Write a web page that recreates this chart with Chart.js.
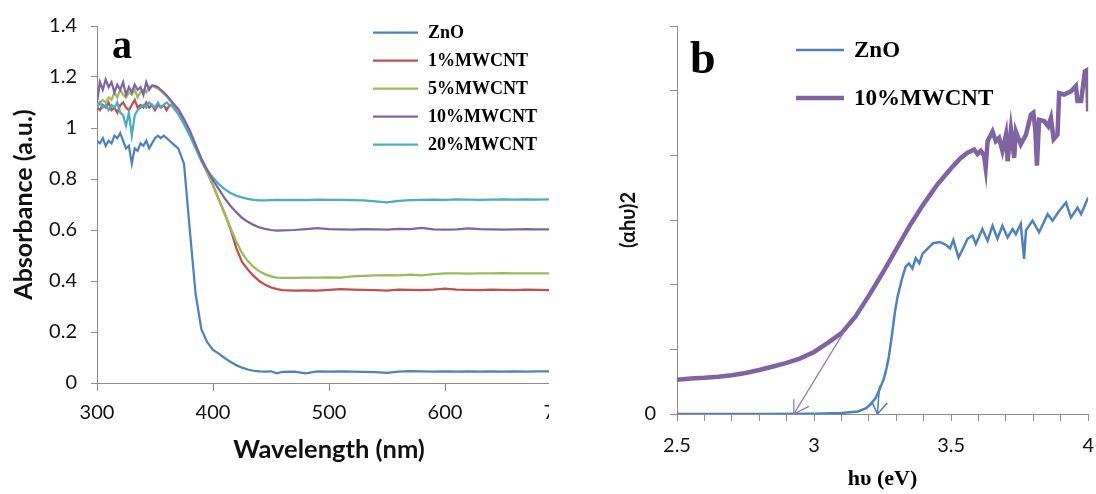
<!DOCTYPE html>
<html>
<head>
<meta charset="utf-8">
<script src="https://cdn.jsdelivr.net/npm/chart.js@4.4.1/dist/chart.umd.min.js"></script>
<style>
  html, body { margin: 0; padding: 0; background: #fff; }
  body { width: 1096px; height: 494px; position: relative; overflow: hidden; }
  canvas { display: block; }
  #wrapA { position: absolute; left: 0; top: 0; width: 549px; height: 494px; overflow: hidden; }
  #wrapB { position: absolute; left: 560px; top: 0; width: 547px; height: 494px; }
</style>
</head>
<body>
<div id="wrapA"><canvas id="chartA" width="590" height="494"></canvas></div>
<div id="wrapB"><canvas id="chartB" width="547" height="494"></canvas></div>
<script>
// ---- panel a: UV-vis absorbance ----
const wavelength = [
  300, 302.5, 305, 307.5, 310, 312.5, 315, 317.5, 320, 322.5, 325, 327.5, 330, 332.5, 335, 337.5, 340, 342.5, 345, 347.5, 350, 352.5, 355, 357.5, 360, 362.5, 365,
  370, 375, 380, 385, 390, 395, 400, 405, 410, 415, 420, 425, 430, 435, 440, 445, 450, 455, 460,
  470, 480, 490, 500, 510, 520, 530, 540, 550, 560, 570, 580, 590, 600, 610, 620, 630, 640, 650, 660, 670, 680, 690, 700
];
const absZnO = [
  0.95, 0.94, 0.96, 0.93, 0.95, 0.94, 0.97, 0.96, 0.98, 0.95, 0.92, 0.93, 0.86, 0.92, 0.91, 0.94, 0.93, 0.95, 0.92, 0.94, 0.96, 0.97, 0.96, 0.97, 0.96, 0.95, 0.94,
  0.92, 0.86, 0.6, 0.35, 0.21, 0.16, 0.13, 0.115, 0.098, 0.083, 0.07, 0.06, 0.053, 0.048, 0.046, 0.045, 0.046, 0.038, 0.044,
  0.045, 0.038, 0.046, 0.045, 0.046, 0.045, 0.044, 0.043, 0.04, 0.045, 0.047, 0.046, 0.045, 0.046, 0.045, 0.046, 0.045, 0.046, 0.045, 0.046, 0.045, 0.046, 0.046, 0.046
];
const abs1 = [
  1.08, 1.07, 1.09, 1.08, 1.1, 1.07, 1.08, 1.06, 1.09, 1.1, 1.08, 1.07, 1.09, 1.11, 1.08, 1.09, 1.08, 1.1, 1.08, 1.09, 1.07, 1.09, 1.08, 1.09, 1.07, 1.09, 1.09,
  1.07, 1.03, 0.98, 0.93, 0.875, 0.825, 0.775, 0.72, 0.665, 0.605, 0.53, 0.475, 0.445, 0.42, 0.4, 0.385, 0.375, 0.368, 0.364,
  0.362, 0.363, 0.362, 0.365, 0.368, 0.366, 0.365, 0.364, 0.362, 0.366, 0.365, 0.364, 0.366, 0.37, 0.366, 0.365, 0.364, 0.366, 0.365, 0.364, 0.366, 0.365, 0.364, 0.365
];
const abs5 = [
  1.09, 1.1, 1.11, 1.1, 1.12, 1.11, 1.14, 1.12, 1.15, 1.13, 1.12, 1.14, 1.13, 1.15, 1.12, 1.14, 1.15, 1.14, 1.16, 1.165, 1.16, 1.155, 1.145, 1.135, 1.125, 1.11, 1.095,
  1.07, 1.03, 0.98, 0.93, 0.875, 0.825, 0.775, 0.72, 0.665, 0.61, 0.555, 0.51, 0.478, 0.455, 0.438, 0.426, 0.418, 0.413, 0.412,
  0.412, 0.413, 0.413, 0.414, 0.413, 0.418, 0.42, 0.422, 0.423, 0.422, 0.425, 0.422, 0.427, 0.43, 0.43, 0.429, 0.43, 0.43, 0.431, 0.43, 0.43, 0.43, 0.43, 0.43
];
const abs10 = [
  1.1, 1.18, 1.15, 1.19, 1.16, 1.18, 1.14, 1.17, 1.15, 1.18, 1.13, 1.16, 1.14, 1.17, 1.15, 1.16, 1.13, 1.18, 1.15, 1.167, 1.165, 1.16, 1.15, 1.14, 1.128, 1.115, 1.1,
  1.075, 1.035, 0.99, 0.935, 0.88, 0.835, 0.795, 0.76, 0.725, 0.695, 0.67, 0.648, 0.632, 0.62, 0.61, 0.604, 0.6, 0.598, 0.599,
  0.6, 0.603, 0.607, 0.603, 0.602, 0.601, 0.603, 0.602, 0.601, 0.604, 0.603, 0.608, 0.602, 0.601, 0.602, 0.606, 0.603, 0.602, 0.601, 0.602, 0.603, 0.602, 0.602, 0.602
];
const abs20 = [
  1.08, 1.1, 1.08, 1.09, 1.07, 1.09, 1.08, 1.1, 1.06, 1.05, 1.01, 1.06, 0.97, 1.05, 1.07, 1.08, 1.09, 1.08, 1.1, 1.09, 1.08, 1.1, 1.08, 1.09, 1.1, 1.09, 1.085,
  1.055, 1.015, 0.97, 0.92, 0.87, 0.835, 0.805, 0.78, 0.76, 0.745, 0.735, 0.728, 0.722, 0.718, 0.716, 0.716, 0.717, 0.718, 0.717,
  0.718, 0.717, 0.719, 0.718, 0.718, 0.717, 0.716, 0.712, 0.708, 0.714, 0.717, 0.718, 0.719, 0.718, 0.72, 0.719, 0.718, 0.719, 0.72, 0.719, 0.72, 0.719, 0.72, 0.72
];

// ---- panel b: Tauc plot ----
const evZnO = [
  2.5, 2.8, 3.0, 3.1, 3.16, 3.19, 3.206, 3.225, 3.243, 3.255, 3.265, 3.273, 3.285, 3.295, 3.305, 3.32, 3.334, 3.346, 3.359, 3.371,
  3.384, 3.396, 3.415, 3.434, 3.459, 3.483, 3.496, 3.508, 3.527, 3.54, 3.56, 3.578, 3.59, 3.614, 3.633, 3.651, 3.669, 3.687, 3.706, 3.724,
  3.736, 3.754, 3.766, 3.773, 3.797, 3.821, 3.852, 3.87, 3.894, 3.919, 3.937, 3.961, 3.974, 4.0
];
const taucZnO = [
  0, 0, 0.005, 0.015, 0.04, 0.09, 0.15, 0.25, 0.42, 0.55, 0.72, 0.89, 1.25, 1.58, 1.82, 2.08, 2.28, 2.33, 2.25, 2.41,
  2.33, 2.48, 2.56, 2.64, 2.66, 2.61, 2.56, 2.69, 2.42, 2.53, 2.71, 2.76, 2.63, 2.86, 2.68, 2.91, 2.71, 2.91, 2.73, 2.86,
  2.78, 2.94, 2.4, 2.84, 2.99, 2.81, 3.09, 2.99, 3.14, 3.27, 3.04, 3.19, 3.09, 3.35
];
const evCNT = [
  2.5, 2.55, 2.6, 2.65, 2.7, 2.75, 2.8, 2.85, 2.9, 2.95, 3.0, 3.05, 3.1, 3.15, 3.2, 3.25, 3.3, 3.35, 3.4, 3.45,
  3.5, 3.535, 3.56, 3.584, 3.596, 3.608, 3.62, 3.626, 3.633, 3.651, 3.663, 3.675, 3.687, 3.7, 3.706, 3.718, 3.73, 3.736, 3.754, 3.773,
  3.791, 3.8, 3.807, 3.813, 3.821, 3.839, 3.854, 3.864, 3.874, 3.888, 3.894, 3.912, 3.937, 3.955, 3.961, 3.974, 3.988, 3.996, 4.0
];
const taucCNT = [
  0.53, 0.55, 0.56, 0.575, 0.6, 0.635, 0.68, 0.735, 0.79, 0.86, 0.96, 1.1, 1.25, 1.5, 1.83, 2.18, 2.55, 2.92, 3.25, 3.55,
  3.8, 3.96, 4.04, 4.09, 4.02, 4.07, 4.0, 3.81, 4.22, 4.37, 4.22, 4.27, 4.07, 4.32, 3.91, 4.4, 3.96, 4.37, 4.17, 4.32,
  4.63, 4.66, 4.4, 3.84, 4.55, 4.53, 4.45, 4.58, 4.25, 4.32, 4.96, 4.94, 4.99, 5.07, 4.84, 4.84, 5.3, 5.32, 4.68
];
// band-gap extrapolation arrows: shaft [from, tip], head [wing, tip, wing]
const arrowCNTx = [3.109, 2.926];
const arrowCNTy = [1.27, 0];
const headCNTx = [2.926, 2.926, 2.981];
const headCNTy = [0.23, 0, 0.118];
const arrowZnOx = [3.239, 3.231];
const arrowZnOy = [0.44, 0];
const headZnOx = [3.212, 3.231, 3.267];
const headZnOy = [0.18, 0, 0.17];

const BLUE = '#4f81bd', RED = '#c0504d', GREEN = '#9bbb59', PURPLE = '#8064a2', CYAN = '#4bacc6';
const AXIS = '#8c8c8c';

Chart.defaults.font.family = 'Lato';
Chart.defaults.color = '#111';

const pts = (xs, ys) => xs.map((x, i) => ({ x: x, y: ys[i] }));
const num = v => String(+v.toFixed(1));

function line(label, xs, ys, color, width, order) {
  return {
    label: label, data: pts(xs, ys), borderColor: color, borderWidth: width,
    pointRadius: 0, tension: 0, fill: false, order: order
  };
}

// draws the line-sample legend and the panel letter
const panelDecor = {
  id: 'panelDecor',
  afterDraw(chart, args, o) {
    const ctx = chart.ctx;
    ctx.save();
    ctx.font = o.font;
    ctx.textBaseline = 'middle';
    ctx.fillStyle = '#000';
    o.items.forEach((idx, i) => {
      const ds = chart.data.datasets[idx];
      const y = o.y + i * o.gap;
      ctx.strokeStyle = ds.borderColor;
      ctx.lineWidth = ds.borderWidth;
      ctx.beginPath();
      ctx.moveTo(o.x, y);
      ctx.lineTo(o.x + o.len, y);
      ctx.stroke();
      ctx.fillText(ds.label, o.x + o.len + o.textGap, y + 1);
    });
    ctx.font = o.letterFont;
    ctx.textBaseline = 'alphabetic';
    ctx.fillText(o.letter, o.letterX, o.letterY);
    ctx.restore();
  }
};

function axisStyle(tickLen) {
  return {
    border: { display: true, color: AXIS, width: 1 },
    grid: { drawOnChartArea: false, color: AXIS, tickLength: tickLen, tickWidth: 1 }
  };
}

new Chart(document.getElementById('chartA'), {
  type: 'line',
  data: {
    datasets: [
      line('ZnO', wavelength, absZnO, BLUE, 2.25, 4),
      line('1%MWCNT', wavelength, abs1, RED, 2.25, 3),
      line('5%MWCNT', wavelength, abs5, GREEN, 2.25, 2),
      line('10%MWCNT', wavelength, abs10, PURPLE, 2.25, 0),
      line('20%MWCNT', wavelength, abs20, CYAN, 2.25, 1)
    ]
  },
  options: {
    responsive: false,
    animation: false,
    events: [],
    layout: { padding: { left: 0, top: 23, right: 29, bottom: 0 } },
    plugins: {
      legend: { display: false },
      tooltip: { enabled: false },
      panelDecor: {
        items: [0, 1, 2, 3, 4], x: 373, y: 32.5, gap: 28, len: 45, textGap: 10,
        font: 'bold 18px "Liberation Serif"',
        letter: 'a', letterX: 112, letterY: 58, letterFont: 'bold 40px "Liberation Serif"'
      }
    },
    scales: {
      x: {
        type: 'linear', min: 300, max: 700,
        ...axisStyle(8),
        ticks: { stepSize: 100, autoSkip: false, maxRotation: 0, padding: 10, font: { size: 20 } },
        title: { display: true, text: 'Wavelength (nm)', font: { size: 25.5, weight: 'bold' }, padding: { top: 0, bottom: 29 } },
        afterFit: s => { s.height = 111; }
      },
      y: {
        min: 0, max: 1.4,
        ...axisStyle(6),
        ticks: { stepSize: 0.2, padding: 14, font: { size: 20 }, callback: num },
        title: { display: true, text: 'Absorbance (a.u.)', font: { size: 25, weight: 'bold' }, padding: { top: 9, bottom: 0 } },
        afterFit: s => { s.width = 97; }
      }
    }
  },
  plugins: [panelDecor]
});

new Chart(document.getElementById('chartB'), {
  type: 'line',
  data: {
    datasets: [
      line('ZnO', evZnO, taucZnO, BLUE, 2.5, 1),
      line('10%MWCNT', evCNT, taucCNT, PURPLE, 4.5, 2),
      line('', arrowCNTx, arrowCNTy, '#9079b3', 1.3, 0),
      line('', headCNTx, headCNTy, '#9079b3', 1.3, 0),
      line('', arrowZnOx, arrowZnOy, BLUE, 1.6, 0),
      line('', headZnOx, headZnOy, BLUE, 1.6, 0)
    ]
  },
  options: {
    responsive: false,
    animation: false,
    events: [],
    layout: { padding: { left: 0, top: 24, right: 8, bottom: 0 } },
    plugins: {
      legend: { display: false },
      tooltip: { enabled: false },
      panelDecor: {
        items: [0, 1], x: 236, y: 50, gap: 48, len: 48, textGap: 10,
        font: 'bold 23px "Liberation Serif"',
        letter: 'b', letterX: 130, letterY: 73, letterFont: 'bold 46px "Liberation Serif"'
      }
    },
    scales: {
      x: {
        type: 'linear', min: 2.5, max: 4,
        ...axisStyle(7),
        ticks: {
          stepSize: 0.1, autoSkip: false, maxRotation: 0, minRotation: 0, padding: 13, font: { size: 20 },
          callback: v => Math.abs(v * 2 - Math.round(v * 2)) < 1e-6 ? num(v) : ''
        },
        title: { display: true, text: 'hυ (eV)', font: { family: '"Liberation Serif"', size: 22, weight: 'bold' }, color: '#000', padding: { top: 0, bottom: 1 } },
        afterFit: s => { s.height = 80; }
      },
      y: {
        min: 0, max: 6,
        ...axisStyle(7),
        ticks: { stepSize: 1, padding: 14, font: { size: 20 }, callback: v => v === 0 ? '0' : '' },
        title: { display: true, text: '(αhυ)2', font: { size: 20, weight: 'bold' }, padding: { top: 57, bottom: 0 } },
        afterFit: s => { s.width = 117; }
      }
    }
  },
  plugins: [panelDecor]
});
</script>
</body>
</html>
